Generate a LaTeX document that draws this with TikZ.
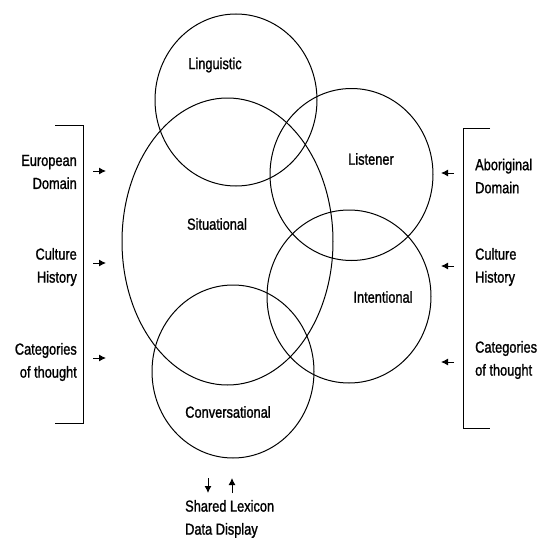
\documentclass[tikz,border=0pt]{standalone}
\usepackage{fontspec}
\setmainfont{Liberation Sans}[FakeStretch=0.8, FakeBold=1.2]
\usetikzlibrary{arrows.meta}
\tikzset{
  sphere/.style={line width=1pt},
  lbl/.style={font=\fontsize{16}{23}\selectfont, inner sep=0pt},
  leftlbl/.style={lbl, align=right, anchor=east},
  rightlbl/.style={lbl, align=left, anchor=west},
  feed/.style={line width=1pt, -{Latex[length=7pt,width=7pt]}},
  brace/.style={line width=1pt}
}
\begin{document}
\begin{tikzpicture}[x=1pt, y=-1pt]
    \useasboundingbox (0,0) rectangle (539,538);
    %% the spheres
    \draw[sphere] (236,100) ellipse [x radius=81, y radius=86];
    \draw[sphere] (227.5,241.5) ellipse [x radius=105.5, y radius=143.5];
    \draw[sphere] (351.5,174.5) ellipse [x radius=81.5, y radius=86];
    \draw[sphere] (349,296.5) ellipse [x radius=82, y radius=86.5];
    \draw[sphere] (233,371.5) ellipse [x radius=81, y radius=86.5];
    \node[lbl] (ling) at (215,65) {Linguistic};
    \node[lbl] (sit) at (217,224) {Situational};
    \node[lbl] (list) at (371,159) {Listener};
    \node[lbl] (intent) at (383,297) {Intentional};
    \node[lbl] (conv) at (228,412) {Conversational};
    %% european side
    \draw[brace] (55,125) -- (83,125) -- (83,423) -- (55,423);
    \node[leftlbl] (eudom) at (77,172) {European\\Domain};
    \node[leftlbl] (euhist) at (77,267) {Culture\\History};
    \node[leftlbl] (eucat) at (77,362) {Categories\\of thought};
    \coordinate (eudom-a) at (93,171); \coordinate (eudom-b) at (106,171);
    \coordinate (euhist-a) at (93,263); \coordinate (euhist-b) at (106,263);
    \coordinate (eucat-a) at (93,358); \coordinate (eucat-b) at (106,358);
    \draw[feed] (eudom-a) -- (eudom-b);
    \draw[feed] (euhist-a) -- (euhist-b);
    \draw[feed] (eucat-a) -- (eucat-b);
    %% aboriginal side
    \draw[brace] (490,128) -- (463,128) -- (463,428) -- (490,428);
    \node[rightlbl] (abdom) at (475,176) {Aboriginal\\Domain};
    \node[rightlbl] (abhist) at (475,267) {Culture\\History};
    \node[rightlbl] (abcat) at (475,360) {Categories\\of thought};
    \coordinate (abdom-a) at (454,173); \coordinate (abdom-b) at (441,173);
    \coordinate (abhist-a) at (454,266); \coordinate (abhist-b) at (441,266);
    \coordinate (abcat-a) at (454,362); \coordinate (abcat-b) at (441,362);
    \draw[feed] (abdom-a) -- (abdom-b);
    \draw[feed] (abhist-a) -- (abhist-b);
    \draw[feed] (abcat-a) -- (abcat-b);
    %% shared lexicon
    \node[rightlbl] (lex) at (185,519) {Shared Lexicon\\Data Display};
    \coordinate (down-a) at (208,478); \coordinate (down-b) at (208,493);
    \coordinate (up-a) at (232,493); \coordinate (up-b) at (232,478);
    \draw[feed] (down-a) -- (down-b);
    \draw[feed] (up-a) -- (up-b);
\end{tikzpicture}
\end{document}
